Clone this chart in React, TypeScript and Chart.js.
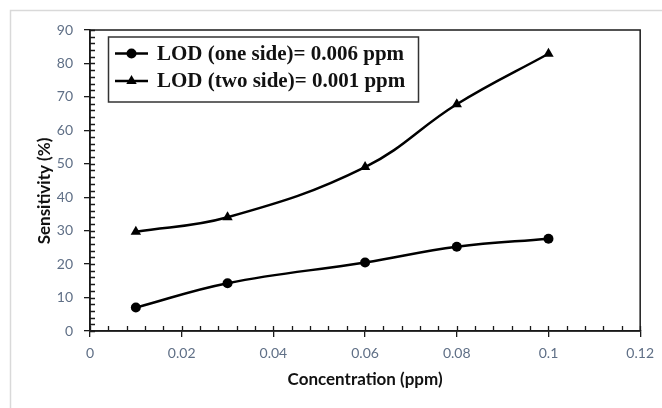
import React, { useEffect, useRef } from "react";
import { Chart, registerables } from "chart.js";

Chart.register(...registerables);

// Concentration (ppm) at each measurement
const concentrations = [0.01, 0.03, 0.06, 0.08, 0.1];
// Sensitivity (%) for the one-sided and two-sided sensors
const oneSide = [7, 14.3, 20.5, 25.2, 27.6];
const twoSide = [29.7, 34, 49, 67.8, 82.9];
const seriesLabels = ["LOD (one side)= 0.006 ppm", "LOD (two side)= 0.001 ppm"];
const xTitle = "Concentration (ppm)";
const yTitle = "Sensitivity (%)";

const AXIS_COLOR = "#1a1a1a";
const TICK_COLOR = "#5f6f86";

function drawMarker(ctx: CanvasRenderingContext2D, style: string, x: number, y: number, r: number) {
  ctx.beginPath();
  if (style === "triangle") {
    const a = (2 * Math.PI) / 3;
    for (let i = 0; i < 3; i++) {
      const ang = i * a;
      const px = x + Math.sin(ang) * r;
      const py = y - Math.cos(ang) * r;
      if (i === 0) ctx.moveTo(px, py);
      else ctx.lineTo(px, py);
    }
    ctx.closePath();
  } else {
    ctx.arc(x, y, r, 0, Math.PI * 2);
  }
  ctx.fill();
}

const decorations = {
  id: "decorations",
  beforeDraw(chart: any) {
    const { ctx, width, height } = chart;
    ctx.save();
    ctx.fillStyle = "#ffffff";
    ctx.fillRect(0, 0, width, height);
    // light outer frame (top and left edges)
    ctx.strokeStyle = "#d9d9d9";
    ctx.lineWidth = 1.5;
    ctx.beginPath();
    ctx.moveTo(10.5, height);
    ctx.lineTo(10.5, 10.5);
    ctx.lineTo(width, 10.5);
    ctx.stroke();
    ctx.restore();
  },
  beforeDatasetsDraw(chart: any) {
    const { ctx, chartArea, scales } = chart;
    const { left, right, top, bottom } = chartArea;
    const x = scales.x;
    const y = scales.y;
    ctx.save();
    ctx.strokeStyle = AXIS_COLOR;
    ctx.lineWidth = 1.5;
    ctx.strokeRect(left, top, right - left, bottom - top);

    ctx.lineWidth = 1.3;
    ctx.beginPath();
    // x axis: minor ticks every 0.004, pointing inward
    for (let i = 0; i <= 30; i++) {
      const px = Math.round(x.getPixelForValue(i * 0.004)) + 0.5;
      ctx.moveTo(px, bottom);
      ctx.lineTo(px, bottom - 5);
    }
    // y axis: minor ticks every 2, pointing inward
    for (let v = 0; v <= 90; v += 2) {
      const py = Math.round(y.getPixelForValue(v)) + 0.5;
      ctx.moveTo(left, py);
      ctx.lineTo(left + 5, py);
    }
    ctx.stroke();

    // axis titles
    ctx.fillStyle = "#111111";
    ctx.font = "bold 17px Lato";
    ctx.textAlign = "center";
    ctx.textBaseline = "middle";
    ctx.fillText(xTitle, (left + right) / 2, 380);
    ctx.translate(45, 191);
    ctx.rotate(-Math.PI / 2);
    ctx.fillText(yTitle, 0, 0);
    ctx.restore();
  },
  afterDraw(chart: any) {
    const { ctx } = chart;
    ctx.save();
    // legend box
    ctx.fillStyle = "#ffffff";
    ctx.fillRect(108.5, 37, 310, 65);
    ctx.strokeStyle = "#333333";
    ctx.lineWidth = 1.5;
    ctx.strokeRect(108.5, 37, 310, 65);
    const rows = [53.5, 81];
    chart.data.datasets.forEach((ds: any, i: number) => {
      const ry = rows[i];
      ctx.strokeStyle = "#000";
      ctx.lineWidth = 2.5;
      ctx.beginPath();
      ctx.moveTo(115, ry);
      ctx.lineTo(148, ry);
      ctx.stroke();
      ctx.fillStyle = "#000";
      drawMarker(ctx, ds.pointStyle, 131.5, ry, ds.pointRadius);
      ctx.fillStyle = "#111111";
      ctx.font = 'bold 21px "Liberation Serif"';
      ctx.textAlign = "left";
      ctx.textBaseline = "middle";
      ctx.fillText(ds.label, 157, ry + 1);
    });
    ctx.restore();
  },
};

const formatTick = (v: number | string) => String(Number(Number(v).toFixed(4)));

export default function App() {
  const canvasRef = useRef<HTMLCanvasElement | null>(null);

  useEffect(() => {
    if (!canvasRef.current) return;
    const chart = new Chart(canvasRef.current, {
      type: "line",
      data: {
        datasets: [
          {
            label: seriesLabels[0],
            data: concentrations.map((c, i) => ({ x: c, y: oneSide[i] })),
            borderColor: "#000",
            backgroundColor: "#000",
            borderWidth: 2.5,
            pointStyle: "circle",
            pointRadius: 5,
            pointBorderWidth: 0,
            tension: 0.4,
          },
          {
            label: seriesLabels[1],
            data: concentrations.map((c, i) => ({ x: c, y: twoSide[i] })),
            borderColor: "#000",
            backgroundColor: "#000",
            borderWidth: 2.5,
            pointStyle: "triangle",
            pointRadius: 6,
            pointBorderWidth: 0,
            tension: 0.4,
          },
        ],
      },
      options: {
        animation: false,
        responsive: true,
        maintainAspectRatio: false,
        layout: { padding: { top: 30, right: 21, left: 0, bottom: 0 } },
        plugins: {
          legend: { display: false },
          tooltip: { enabled: false },
        },
        scales: {
          x: {
            type: "linear",
            min: 0,
            max: 0.12,
            afterFit: (s: any) => {
              s.height = 77;
            },
            border: { display: true, color: AXIS_COLOR, width: 1.5 },
            grid: {
              display: true,
              drawOnChartArea: false,
              drawTicks: true,
              tickLength: 6,
              color: AXIS_COLOR,
              lineWidth: 1.3,
            },
            ticks: {
              stepSize: 0.02,
              padding: 8,
              color: TICK_COLOR,
              font: { family: "Lato", size: 14 },
              maxRotation: 0,
              callback: (v: any) => formatTick(v),
            },
          },
          y: {
            min: 0,
            max: 90,
            afterFit: (s: any) => {
              s.width = 90;
            },
            border: { display: true, color: AXIS_COLOR, width: 1.5 },
            grid: {
              display: true,
              drawOnChartArea: false,
              drawTicks: true,
              tickLength: 6,
              color: AXIS_COLOR,
              lineWidth: 1.3,
            },
            ticks: {
              stepSize: 10,
              padding: 11,
              color: TICK_COLOR,
              font: { family: "Lato", size: 14 },
            },
          },
        },
      },
      plugins: [decorations],
    });
    return () => chart.destroy();
  }, []);

  return (
    <div style={{ position: "fixed", left: 0, top: 0, width: 662, height: 408, background: "#fff" }}>
      <canvas ref={canvasRef} />
    </div>
  );
}
